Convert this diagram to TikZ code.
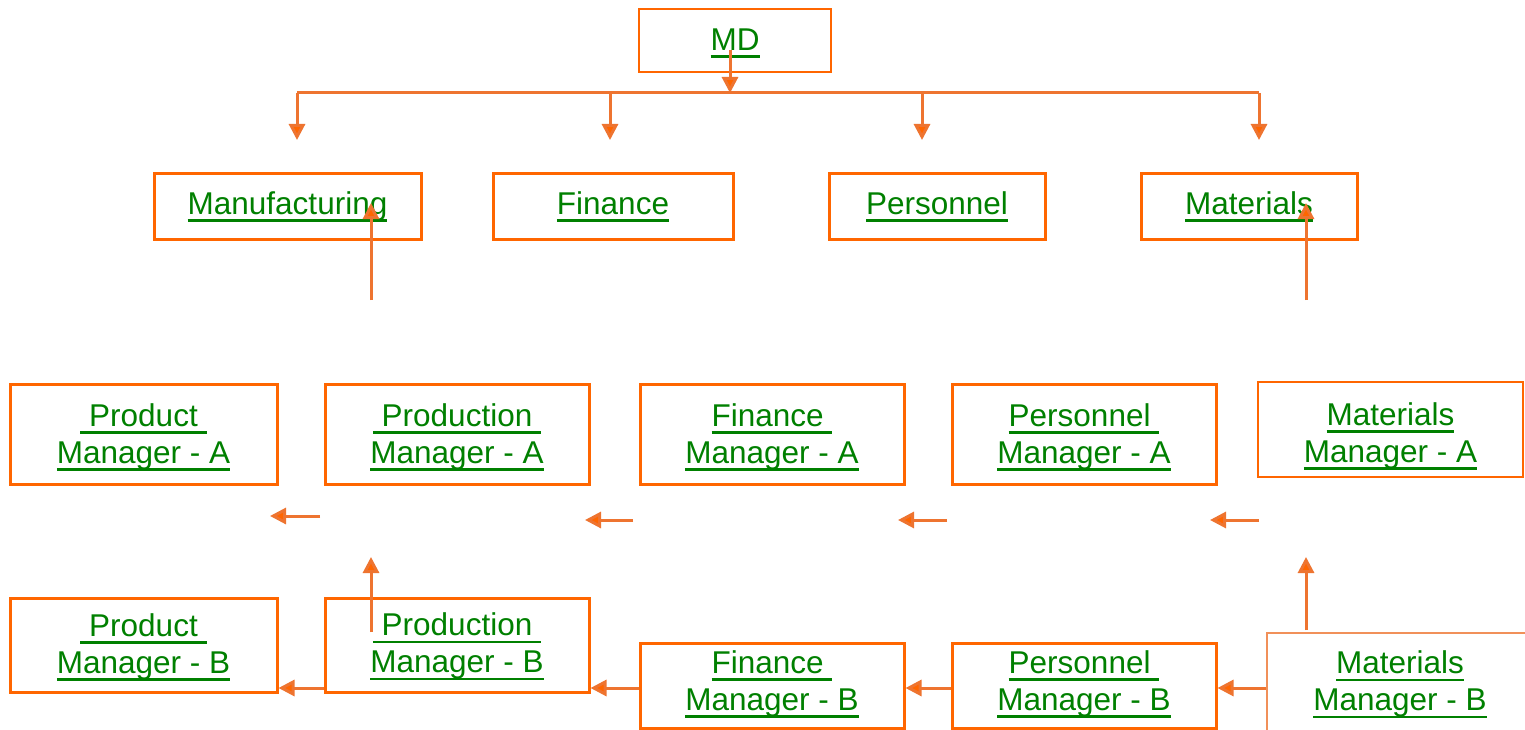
\documentclass[tikz,border=0pt]{standalone}
\usepackage{fontspec}
\setmainfont{Liberation Sans}
\usetikzlibrary{arrows.meta}
\definecolor{boxor}{HTML}{FF6600}
\definecolor{lineor}{HTML}{EE7430}
\definecolor{txtgr}{HTML}{008000}
\newcommand\ulx[1]{\setbox0\hbox{#1}\rlap{\rule[-7.5pt]{\wd0}{2.6pt}}\box0}
\tikzset{
  x=1pt, y=-1pt,
  orgbox/.style={draw=boxor, line width=3pt, inner sep=0pt},
  thinbox/.style={orgbox, line width=2.2pt},
  orgtxt/.style={inner sep=0pt, align=center, text=txtgr, font=\fontsize{31.5}{37}\selectfont},
  arr/.style={draw=lineor, line width=3pt, -{Triangle[width=16pt,length=16pt,fill=boxor]}},
  bus/.style={draw=lineor, line width=3pt}
}
% style, x1, y1, x2, y2, name, text-y, text
\newcommand\bx[8]{%
  \node[#1, minimum width=#4-#2, minimum height=#5-#3] (#6) at ({(#2+#4)/2},{(#3+#5)/2}) {};
  \node[orgtxt] (#6t) at ({(#2+#4)/2},#7) {#8};}
\begin{document}
\begin{tikzpicture}
\clip (0,0) rectangle (1525,730);
\fill[white] (0,0) rectangle (1525,730);
% top
\bx{thinbox}{639}{9}{831}{72}{md}{43.5}{\ulx{MD}}
\bx{orgbox}{154}{174}{421}{239}{man}{206.5}{\ulx{Manufacturing}}
\bx{orgbox}{493}{174}{733}{239}{fin}{206.5}{\ulx{Finance}}
\bx{orgbox}{829}{174}{1045}{239}{per}{206.5}{\ulx{Personnel}}
\bx{orgbox}{1141}{174}{1357}{239}{mat}{206.5}{\ulx{Materials}}
% row A
\bx{orgbox}{10}{384}{277}{484}{pda}{437}{\ulx{\ Product\ }\\\ulx{Manager - A}}
\bx{orgbox}{325}{384}{589}{484}{pra}{437}{\ulx{\ Production\ }\\\ulx{Manager - A}}
\bx{orgbox}{640}{384}{904}{484}{fia}{437}{\ulx{Finance\ }\\\ulx{Manager - A}}
\bx{orgbox}{952}{384}{1216}{484}{pea}{437}{\ulx{Personnel\ }\\\ulx{Manager - A}}
\bx{thinbox}{1258}{382}{1523}{477}{maa}{436}{\ulx{Materials}\\\ulx{Manager - A}}
% row B
\bx{orgbox}{10}{598}{277}{692}{pdb}{647}{\ulx{\ Product\ }\\\ulx{Manager - B}}
\bx{orgbox}{325}{598}{589}{692}{prb}{646.5}{\ulx{\ Production\ }\\\ulx{Manager - B}}
\bx{orgbox}{640}{643}{904}{728}{fib}{684}{\ulx{Finance\ }\\\ulx{Manager - B}}
\bx{orgbox}{952}{643}{1216}{728}{peb}{684}{\ulx{Personnel\ }\\\ulx{Manager - B}}
\bx{thinbox, draw=lineor!80}{1267}{633}{1537}{743}{mab}{684.5}{}
\node[orgtxt] (mabt) at (1400,684.5) {\ulx{Materials}\\\ulx{Manager - B}};
% MD to bus
\coordinate (mds) at (730,50);
\coordinate (busm) at (730,93);
\coordinate (busl) at (297,93);
\coordinate (busr) at (1259,93);
\draw[arr] (mds) -- (busm);
\draw[bus] (busl) -- (busr);
\draw[arr] (busl) -- (297,140);
\draw[arr] (610,93) -- (610,140);
\draw[arr] (922,93) -- (922,140);
\draw[arr] (busr) -- (1259,140);
% floating up arrows
\coordinate (u1) at (371,300); \coordinate (u1e) at (371,203);
\coordinate (u2) at (1306,300); \coordinate (u2e) at (1306,203);
\draw[arr] (u1) -- (u1e);
\draw[arr] (u2) -- (u2e);
\coordinate (u3) at (371,632); \coordinate (u3e) at (371,557);
\coordinate (u4) at (1306,630); \coordinate (u4e) at (1306,557);
\draw[arr] (u3) -- (u3e);
\draw[arr] (u4) -- (u4e);
% floating left arrows
\draw[arr] (320,516) -- (270,516);
\draw[arr] (633,520) -- (585,520);
\draw[arr] (947,520) -- (898,520);
\draw[arr] (1259,520) -- (1210,520);
% row B connectors
\coordinate (yb) at (0,688);
\draw[arr] (mab.west |- yb) -- (peb.east |- yb);
\draw[arr] (peb.west |- yb) -- (fib.east |- yb);
\draw[arr] (fib.west |- yb) -- (prb.east |- yb);
\draw[arr] (prb.west |- yb) -- (pdb.east |- yb);
\end{tikzpicture}
\end{document}
